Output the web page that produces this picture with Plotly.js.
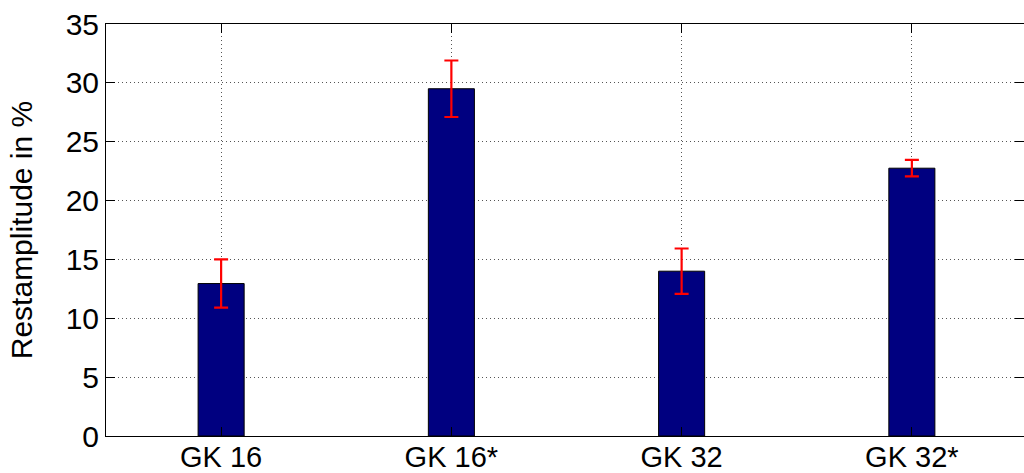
<!DOCTYPE html>
<html>
<head>
<meta charset="utf-8">
<script src="https://cdn.plot.ly/plotly-3.0.1.min.js"></script>
<style>html,body{margin:0;padding:0;overflow:hidden;background:#fff;}#chart{width:1024px;height:473px;}</style>
</head>
<body>
<div id="chart"></div>
<script>
var categories = ["GK 16", "GK 16*", "GK 32", "GK 32*"];
var values = [12.95, 29.5, 14.0, 22.75];
var errors = [2.05, 2.4, 1.93, 0.7];
var yTicks = [0, 5, 10, 15, 20, 25, 30, 35];

var trace = {
  type: "bar",
  x: [0, 1, 2, 3],
  y: values,
  width: 0.2,
  marker: {color: "#000080", line: {color: "#000000", width: 1}},
  error_y: {type: "data", array: errors, visible: true, color: "#ff0000", thickness: 2.2, width: 7}
};

var layout = {
  width: 1024, height: 473,
  margin: {l: 106, r: 0, t: 24, b: 37, pad: 0},
  paper_bgcolor: "#fff", plot_bgcolor: "#fff",
  font: {family: "Liberation Sans, Arial, sans-serif", size: 30, color: "#000"},
  showlegend: false,
  bargap: 0,
  xaxis: {
    range: [-0.5, 3.487],
    tickmode: "array", tickvals: [0, 1, 2, 3], ticktext: categories,
    ticks: "inside", ticklen: 9, tickcolor: "#000", tickwidth: 1,
    showline: true, linecolor: "#000", linewidth: 1, mirror: "ticks",
    showgrid: true, gridcolor: "#555", griddash: "1px,3px", gridwidth: 1,
    zeroline: false, tickfont: {size: 29}, ticklabelstandoff: -5
  },
  yaxis: {
    range: [0, 35],
    tickmode: "array", tickvals: yTicks,
    ticks: "inside", ticklen: 9, tickcolor: "#000", tickwidth: 1,
    showline: true, linecolor: "#000", linewidth: 1, mirror: "ticks",
    showgrid: true, gridcolor: "#555", griddash: "1px,3px", gridwidth: 1,
    zeroline: false, tickfont: {size: 30},
    title: {text: "Restamplitude in %", font: {size: 30}, standoff: 24}
  }
};

Plotly.newPlot("chart", [trace], layout, {displayModeBar: false, staticPlot: true});
</script>
</body>
</html>
